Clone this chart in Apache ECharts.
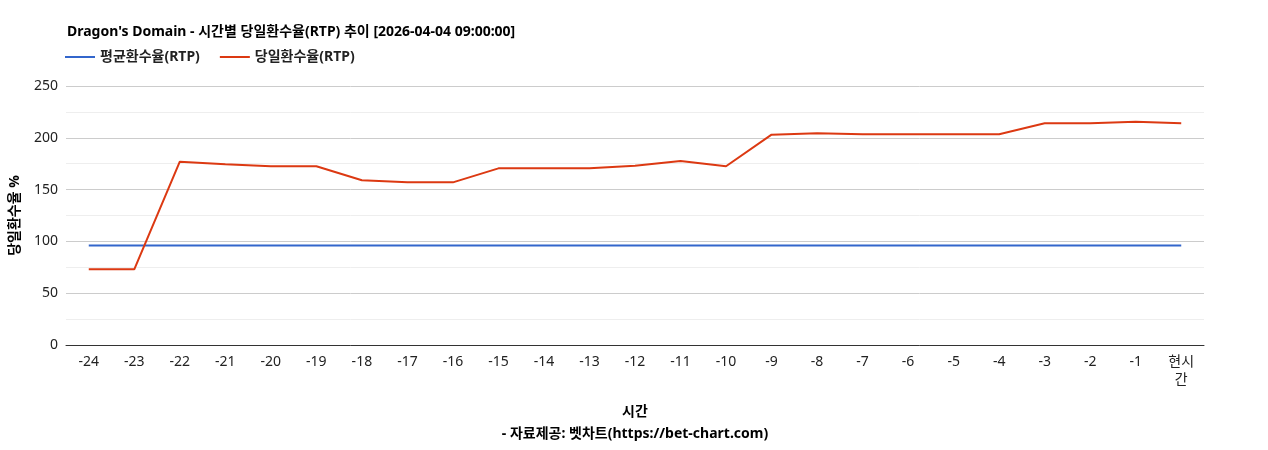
<!DOCTYPE html>
<html><head><meta charset="utf-8">
<script src="https://cdn.jsdelivr.net/npm/echarts@6/dist/echarts.min.js"></script>
<style>html,body{margin:0;padding:0;background:#fff}#c{width:1268px;height:450px}</style>
</head><body><div id="c"></div>
<script>
const categories = ['-24','-23','-22','-21','-20','-19','-18','-17','-16','-15','-14','-13','-12','-11','-10','-9','-8','-7','-6','-5','-4','-3','-2','-1','현시\n간'];
const avgRtp = [96,96,96,96,96,96,96,96,96,96,96,96,96,96,96,96,96,96,96,96,96,96,96,96,96];
const dayRtp = [73,73,177,174.5,172.5,172.5,159,157,157,170.5,170.5,170.5,173,177.5,172.5,203,204.5,203.5,203.5,203.5,203.5,214,214,215.5,214];
const font = "'Noto Sans', 'Noto Sans CJK KR', sans-serif";
const chart = echarts.init(document.getElementById('c'));
chart.setOption({
  animation:false,
  textStyle:{fontFamily:font},
  title:{text:"Dragon's Domain - 시간별 당일환수율(RTP) 추이 [2026-04-04 09:00:00]",left:62,top:20,textStyle:{fontSize:14,fontWeight:'bold',color:'#000',fontFamily:font}},
  legend:{left:60,top:45,itemWidth:30,itemHeight:2,itemGap:20,icon:'rect',textStyle:{fontSize:14,fontWeight:'bold',color:'#222',fontFamily:font},data:['평균환수율(RTP)','당일환수율(RTP)']},
  grid:{left:64,right:64,top:86,bottom:87},
  xAxis:{type:'category',boundaryGap:true,data:categories,name:'시간\n- 자료제공: 벳차트(https://bet-chart.com)',nameLocation:'middle',nameGap:56,
    nameTextStyle:{fontSize:14,fontWeight:'bold',color:'#000',lineHeight:22},
    axisLine:{lineStyle:{color:'#333'}},axisTick:{show:false},axisLabel:{fontSize:14,color:'#222',interval:0,lineHeight:18}},
  yAxis:{type:'value',min:0,max:250,interval:50,name:'당일환수율 %',nameLocation:'middle',nameGap:44,nameRotate:90,
    nameTextStyle:{fontSize:14,fontWeight:'bold',color:'#000'},
    axisLabel:{fontSize:14,color:'#222'},splitLine:{lineStyle:{color:'#ccc'}},
    minorTick:{show:false,splitNumber:2},minorSplitLine:{show:true,lineStyle:{color:'#eee'}}},
  series:[
    {name:'평균환수율(RTP)',type:'line',data:avgRtp,symbol:'none',lineStyle:{color:'#3366cc',width:2},itemStyle:{color:'#3366cc'}},
    {name:'당일환수율(RTP)',type:'line',data:dayRtp,symbol:'none',lineStyle:{color:'#dc3912',width:2},itemStyle:{color:'#dc3912'}}
  ]
});
</script></body></html>
